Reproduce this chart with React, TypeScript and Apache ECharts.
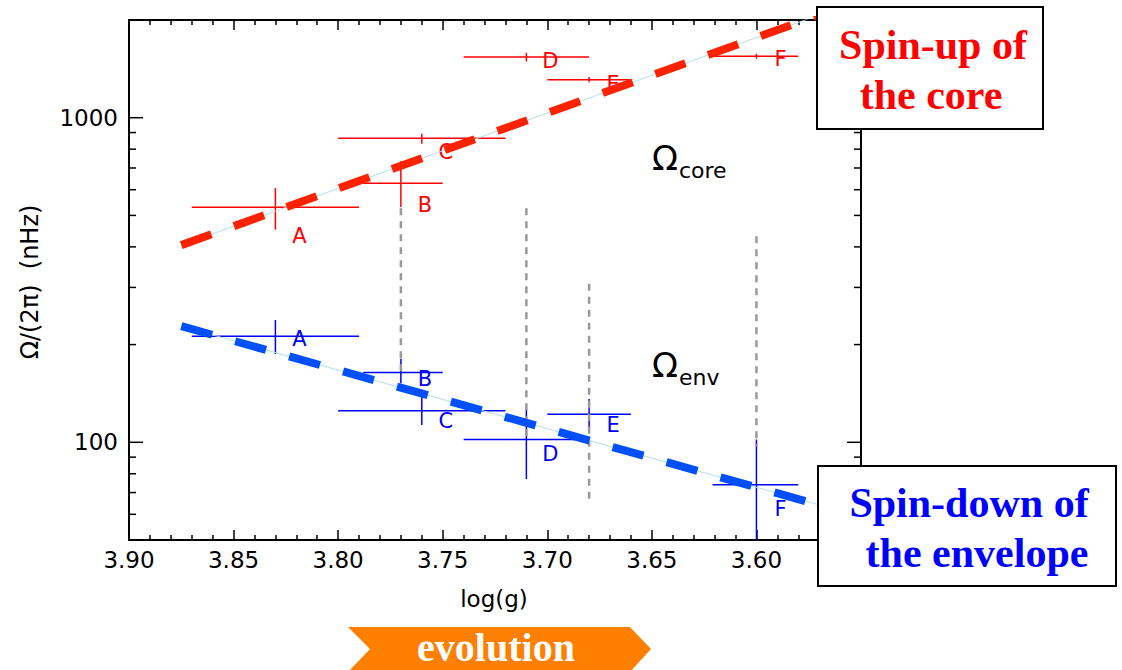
import React, { useEffect, useRef } from 'react';
import * as echarts from 'echarts';

// ---------- data ----------
const POINT_NAMES = ['A', 'B', 'C', 'D', 'E', 'F'];
const LOGG = [3.83, 3.77, 3.76, 3.71, 3.68, 3.6];
const LOGG_LOW = [3.79, 3.75, 3.72, 3.68, 3.66, 3.58];
const LOGG_HIGH = [3.87, 3.788, 3.8, 3.74, 3.7, 3.621];

const CORE_OMEGA = [530, 628, 865, 1537, 1309, 1547];
const CORE_LOW = [452, 531, 832, 1490, 1287, 1519];
const CORE_HIGH = [607, 734, 893, 1585, 1334, 1574];

const ENV_OMEGA = [212, 164, 125, 102, 122, 74];
const ENV_LOW = [187, 152, 113, 77, 109, 49];
const ENV_HIGH = [238, 181, 139, 126, 136, 102];

const FIT_LOGG = [3.875, 3.55];
const CORE_FIT = [405, 2307];
const ENV_FIT = [228, 59];

const GUIDE_LOGG = [3.77, 3.71, 3.68, 3.6];
const GUIDE_TOP = [526, 526, 308, 431];
const GUIDE_BOTTOM = [159, 102, 65, 97];

const X_MIN = 3.55;
const X_MAX = 3.9;
const X_STEP = 0.05;
const Y_MIN = 50;
const Y_MAX = 2000;
const Y_LABELS = [100, 1000];
const Y_TICKS = [60, 70, 80, 90, 100, 200, 300, 400, 500, 600, 700, 800, 900, 1000];

// ---------- layout / style ----------
const LABEL_DX = 24;
const CORE_LABEL_DY = [29, 22, 14, 4, 4, 3];
const ENV_LABEL_DY = [3, 6, 10, 15, 11, 24];
const SANS = 'DejaVu Sans';
const SERIF = 'Liberation Serif';

function errorBars(name: string, omega: number[], low: number[], high: number[], color: string, labelDy: number[]) {
  const data = LOGG.map((x, i) => [x, omega[i], LOGG_LOW[i], LOGG_HIGH[i], low[i], high[i], i]);
  return {
    type: 'custom',
    name,
    coordinateSystem: 'cartesian2d',
    xAxisIndex: 0,
    yAxisIndex: 0,
    clip: true,
    silent: true,
    z: 2,
    encode: { x: 0, y: 1 },
    data,
    renderItem: (_p: any, api: any) => {
      const x = api.value(0);
      const y = api.value(1);
      const c = api.coord([x, y]);
      const h1 = api.coord([api.value(2), y]);
      const h2 = api.coord([api.value(3), y]);
      const v1 = api.coord([x, api.value(4)]);
      const v2 = api.coord([x, api.value(5)]);
      const i = api.value(6);
      return {
        type: 'group',
        children: [
          { type: 'line', shape: { x1: h1[0], y1: h1[1], x2: h2[0], y2: h2[1] }, style: { stroke: color, lineWidth: 1.5 } },
          { type: 'line', shape: { x1: v1[0], y1: v1[1], x2: v2[0], y2: v2[1] }, style: { stroke: color, lineWidth: 1.5 } },
          {
            type: 'text',
            x: c[0] + LABEL_DX,
            y: c[1] + labelDy[i],
            style: { text: POINT_NAMES[i], fill: color, fontSize: 21, fontFamily: SANS, align: 'center', verticalAlign: 'middle' },
          },
        ],
      };
    },
  };
}

export default function App() {
  const ref = useRef<HTMLDivElement>(null);
  useEffect(() => {
    document.body.style.margin = '0';
    if (!ref.current) return;
    const chart = echarts.init(ref.current, null, { renderer: 'svg' });

    const axisLineStyle = { color: '#000', width: 2 };
    const xBase: any = {
      type: 'value',
      min: X_MIN,
      max: X_MAX,
      interval: X_STEP,
      inverse: true,
      axisLine: { show: true, onZero: false, lineStyle: axisLineStyle },
      axisTick: { show: true, inside: true, length: 10, lineStyle: { color: '#000', width: 1.5 } },
      minorTick: { show: true, splitNumber: 5, length: 5, lineStyle: { color: '#000', width: 1.5 } },
      splitLine: { show: false },
      minorSplitLine: { show: false },
    };
    const yBase: any = {
      type: 'log',
      logBase: 10,
      min: Y_MIN,
      max: Y_MAX,
      axisLine: { show: true, onZero: false, lineStyle: axisLineStyle },
      axisTick: { show: false },
      minorTick: { show: false },
      splitLine: { show: false },
      minorSplitLine: { show: false },
    };

    const option: any = {
      animation: false,
      backgroundColor: '#fff',
      grid: { left: 129, top: 20, width: 732, height: 520, containLabel: false },
      xAxis: [
        {
          ...xBase,
          position: 'bottom',
          axisLabel: {
            show: true,
            margin: 8,
            fontSize: 23,
            fontFamily: SANS,
            color: '#000',
            formatter: (v: number) => (Math.abs(v - X_MIN) < 1e-6 ? '' : v.toFixed(2)),
          },
        },
        { ...xBase, position: 'top', axisLabel: { show: false } },
      ],
      yAxis: [
        {
          ...yBase,
          position: 'left',
          axisLabel: {
            show: true,
            margin: 11,
            fontSize: 23,
            fontFamily: SANS,
            color: '#000',
            formatter: (v: number) => {
              const r = Math.round(v);
              return Y_LABELS.includes(r) ? String(r) : '';
            },
          },
        },
        { ...yBase, position: 'right', axisLabel: { show: false } },
      ],
      series: [
        errorBars('core', CORE_OMEGA, CORE_LOW, CORE_HIGH, '#ff0000', CORE_LABEL_DY),
        errorBars('env', ENV_OMEGA, ENV_LOW, ENV_HIGH, '#0000ff', ENV_LABEL_DY),
        {
          type: 'custom',
          name: 'guides',
          coordinateSystem: 'cartesian2d',
          silent: true,
          clip: true,
          z: 3,
          encode: { x: 0, y: 1 },
          data: GUIDE_LOGG.map((x, i) => [x, GUIDE_TOP[i], GUIDE_BOTTOM[i]]),
          renderItem: (_p: any, api: any) => {
            const a = api.coord([api.value(0), api.value(1)]);
            const b = api.coord([api.value(0), api.value(2)]);
            return {
              type: 'line',
              shape: { x1: a[0], y1: a[1], x2: b[0], y2: b[1] },
              style: { stroke: '#999999', lineWidth: 2.5, lineDash: [7, 6] },
            };
          },
        },
        {
          type: 'line',
          name: 'core fit thin',
          data: FIT_LOGG.map((x, i) => [x, CORE_FIT[i]]),
          symbol: 'none',
          silent: true,
          z: 4,
          lineStyle: { color: '#b4dfe8', width: 1 },
        },
        {
          type: 'line',
          name: 'env fit thin',
          data: FIT_LOGG.map((x, i) => [x, ENV_FIT[i]]),
          symbol: 'none',
          silent: true,
          z: 4,
          lineStyle: { color: '#b4dfe8', width: 1 },
        },
        {
          type: 'line',
          name: 'core fit',
          data: FIT_LOGG.map((x, i) => [x, CORE_FIT[i]]),
          symbol: 'none',
          silent: true,
          z: 5,
          lineStyle: { color: '#ff2200', width: 8, type: [32, 24], cap: 'butt' },
        },
        {
          type: 'line',
          name: 'env fit',
          data: FIT_LOGG.map((x, i) => [x, ENV_FIT[i]]),
          symbol: 'none',
          silent: true,
          z: 5,
          lineStyle: { color: '#0050ff', width: 8, type: [32, 24], cap: 'butt' },
        },
        {
          type: 'custom',
          name: 'y ticks',
          coordinateSystem: 'cartesian2d',
          silent: true,
          clip: false,
          z: 6,
          encode: { x: 0, y: 1 },
          data: Y_TICKS.map((v) => [X_MAX, v, Y_LABELS.includes(v) ? 1 : 0]),
          renderItem: (_p: any, api: any) => {
            const v = api.value(1);
            const len = api.value(2) ? 14 : 7;
            const l = api.coord([X_MAX, v]);
            const r = api.coord([X_MIN, v]);
            const st = { stroke: '#000', lineWidth: 1.5 };
            return {
              type: 'group',
              children: [
                { type: 'line', shape: { x1: l[0], y1: l[1], x2: l[0] + len, y2: l[1] }, style: st },
                { type: 'line', shape: { x1: r[0] - len, y1: r[1], x2: r[0], y2: r[1] }, style: st },
              ],
            };
          },
        },
      ],
      graphic: [
        { type: 'text', z: 50, x: 30, y: 282, rotation: Math.PI / 2, style: { text: 'Ω/(2π)  (nHz)', fill: '#000', fontSize: 24, fontFamily: SANS, align: 'center', verticalAlign: 'middle' } },
        { type: 'text', z: 50, x: 494, y: 599, style: { text: 'log(g)', fill: '#000', fontSize: 23, fontFamily: SANS, align: 'center', verticalAlign: 'middle' } },
        { type: 'text', z: 50, x: 652, y: 157.5, style: { text: 'Ω', fill: '#000', fontSize: 34, fontFamily: SANS, align: 'left', verticalAlign: 'middle' } },
        { type: 'text', z: 50, x: 679, y: 170.5, style: { text: 'core', fill: '#000', fontSize: 22, fontFamily: SANS, align: 'left', verticalAlign: 'middle' } },
        { type: 'text', z: 50, x: 652, y: 365, style: { text: 'Ω', fill: '#000', fontSize: 34, fontFamily: SANS, align: 'left', verticalAlign: 'middle' } },
        { type: 'text', z: 50, x: 679, y: 377.5, style: { text: 'env', fill: '#000', fontSize: 22, fontFamily: SANS, align: 'left', verticalAlign: 'middle' } },
        { type: 'rect', z: 100, shape: { x: 817, y: 7, width: 226, height: 122 }, style: { fill: '#fff', stroke: '#000', lineWidth: 2 } },
        { type: 'text', z: 101, x: 933, y: 45, style: { text: 'Spin-up of', fill: '#ff0000', fontSize: 42, fontWeight: 'bold', fontFamily: SERIF, align: 'center', verticalAlign: 'middle' } },
        { type: 'text', z: 101, x: 931, y: 95, style: { text: 'the core', fill: '#ff0000', fontSize: 42, fontWeight: 'bold', fontFamily: SERIF, align: 'center', verticalAlign: 'middle' } },
        { type: 'rect', z: 100, shape: { x: 818, y: 466, width: 298, height: 120 }, style: { fill: '#fff', stroke: '#000', lineWidth: 2 } },
        { type: 'text', z: 101, x: 969, y: 503, style: { text: 'Spin-down of', fill: '#0000ff', fontSize: 42, fontWeight: 'bold', fontFamily: SERIF, align: 'center', verticalAlign: 'middle' } },
        { type: 'text', z: 101, x: 977, y: 553, style: { text: 'the envelope', fill: '#0000ff', fontSize: 42, fontWeight: 'bold', fontFamily: SERIF, align: 'center', verticalAlign: 'middle' } },
        {
          type: 'polygon',
          z: 100,
          shape: { points: [[348, 627], [630, 627], [651, 649], [630, 672], [348, 672], [370, 649]] },
          style: { fill: '#ff8000' },
        },
        { type: 'text', z: 101, x: 496, y: 647.5, style: { text: 'evolution', fill: '#fff', fontSize: 40, fontWeight: 'bold', fontFamily: SERIF, align: 'center', verticalAlign: 'middle' } },
      ],
    };
    chart.setOption(option);
    return () => chart.dispose();
  }, []);
  return <div ref={ref} style={{ width: 1122, height: 670 }} />;
}
